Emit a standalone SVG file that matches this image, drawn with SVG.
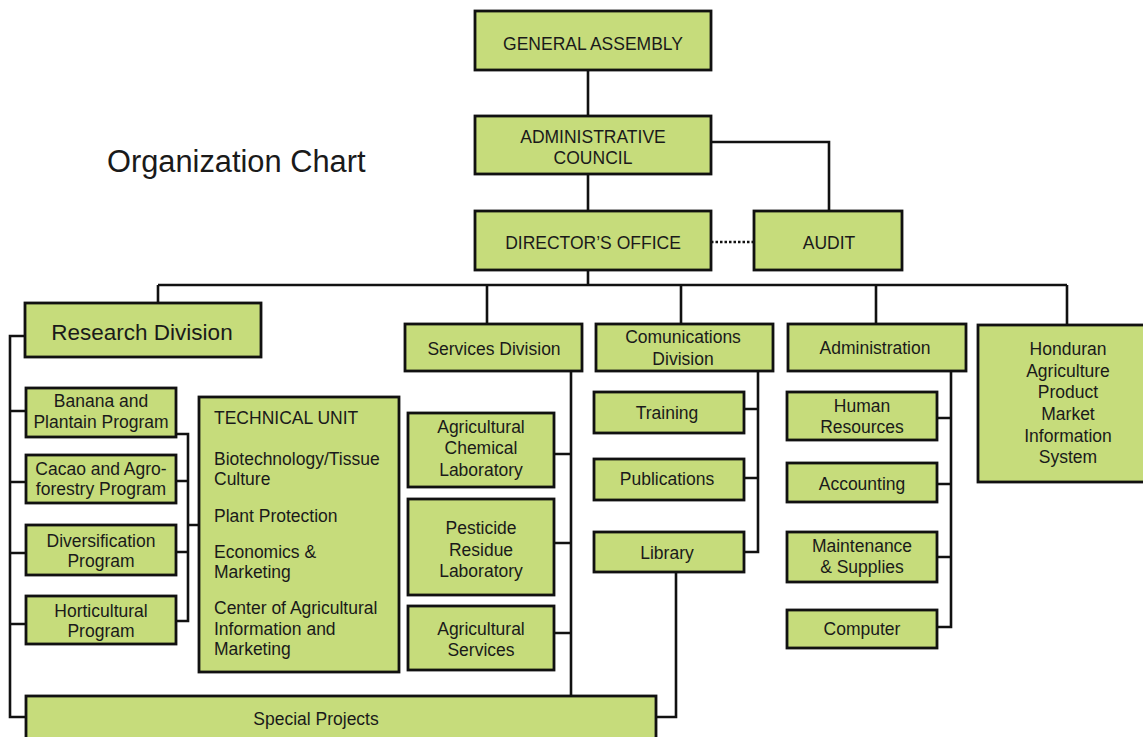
<svg xmlns="http://www.w3.org/2000/svg" width="1143" height="737" viewBox="0 0 1143 737">
<style>
.b{fill:#c6dc7b;stroke:#111;stroke-width:2.8}
.t{font-family:"Liberation Sans",Arial,sans-serif;font-size:17.5px;fill:#1a1a1a;text-anchor:middle}
.l{text-anchor:start}
.c{fill:none;stroke:#111;stroke-width:2.6}
</style>
<rect width="1143" height="737" fill="#fff"/>
<text x="107" y="172" style="font-family:'Liberation Sans',Arial,sans-serif;font-size:30.8px;fill:#1a1a1a">Organization Chart</text>
<g id="connectors">
<path class="c" d="M588,70V116M588,174V211M711,142H829V211M588,270V285M158,285H1067M158,285V303M487,285V324M681,285V324M876,285V324M1067,285V325"/>
<path class="c" d="M711,242H754" stroke-dasharray="2.5,2"/>
<path class="c" d="M25,336H10V717H26M10,411H26M10,482H26M10,553H26M10,624H26"/>
<path class="c" d="M176,434H188V621H176M176,481H188M176,552H188M188,525H199"/>
<path class="c" d="M571,371V696M554,454H571M554,543H571M554,633H571"/>
<path class="c" d="M758,371V552H744M744,409H758M744,478H758"/>
<path class="c" d="M676,572V717H656"/>
<path class="c" d="M951,371V627H937M937,418H951M937,484H951M937,557H951"/>
</g>
<g id="general-assembly"><rect class="b" x="475" y="11" width="236" height="59"/><text class="t" x="593" y="50">GENERAL ASSEMBLY</text></g>
<g id="administrative-council"><rect class="b" x="475" y="116" width="236" height="58"/><text class="t" x="593" y="143">ADMINISTRATIVE</text><text class="t" x="593" y="164">COUNCIL</text></g>
<g id="directors-office"><rect class="b" x="475" y="211" width="236" height="59"/><text class="t" x="593" y="249">DIRECTOR’S OFFICE</text></g>
<g id="audit"><rect class="b" x="754" y="211" width="148" height="59"/><text class="t" x="829" y="249">AUDIT</text></g>
<g id="research-division"><rect class="b" x="25" y="303" width="236" height="54"/><text class="t" x="142" y="340" style="font-size:22.5px">Research Division</text></g>
<g id="banana"><rect class="b" x="26" y="388" width="150" height="49"/><text class="t" x="101" y="407">Banana and</text><text class="t" x="101" y="428">Plantain Program</text></g>
<g id="cacao"><rect class="b" x="26" y="455" width="150" height="48"/><text class="t" x="101" y="475">Cacao and Agro-</text><text class="t" x="101" y="495">forestry Program</text></g>
<g id="diversification"><rect class="b" x="26" y="525" width="150" height="50"/><text class="t" x="101" y="547">Diversification</text><text class="t" x="101" y="567">Program</text></g>
<g id="horticultural"><rect class="b" x="26" y="596" width="150" height="48"/><text class="t" x="101" y="617">Horticultural</text><text class="t" x="101" y="637">Program</text></g>
<g id="technical-unit"><rect class="b" x="199" y="397" width="200" height="275"/>
<text class="t l" x="214" y="424">TECHNICAL UNIT</text>
<text class="t l" x="214" y="465">Biotechnology/Tissue</text>
<text class="t l" x="214" y="485">Culture</text>
<text class="t l" x="214" y="522">Plant Protection</text>
<text class="t l" x="214" y="558">Economics &amp;</text>
<text class="t l" x="214" y="578">Marketing</text>
<text class="t l" x="214" y="614">Center of Agricultural</text>
<text class="t l" x="214" y="635">Information and</text>
<text class="t l" x="214" y="655">Marketing</text></g>
<g id="special-projects"><rect class="b" x="26" y="696" width="630" height="60"/><text class="t" x="316" y="725">Special Projects</text></g>
<g id="services-division"><rect class="b" x="405" y="324" width="177" height="47"/><text class="t" x="494" y="355">Services Division</text></g>
<g id="agricultural-chemical-laboratory"><rect class="b" x="408" y="413" width="146" height="74"/><text class="t" x="481" y="433">Agricultural</text><text class="t" x="481" y="454">Chemical</text><text class="t" x="481" y="476">Laboratory</text></g>
<g id="pesticide-residue-laboratory"><rect class="b" x="408" y="499" width="146" height="96"/><text class="t" x="481" y="534">Pesticide</text><text class="t" x="481" y="556">Residue</text><text class="t" x="481" y="577">Laboratory</text></g>
<g id="agricultural-services"><rect class="b" x="408" y="606" width="146" height="64"/><text class="t" x="481" y="635">Agricultural</text><text class="t" x="481" y="656">Services</text></g>
<g id="comunications-division"><rect class="b" x="596" y="324" width="177" height="47"/><text class="t" x="683" y="343">Comunications</text><text class="t" x="683" y="365">Division</text></g>
<g id="training"><rect class="b" x="594" y="392" width="150" height="41"/><text class="t" x="667" y="419">Training</text></g>
<g id="publications"><rect class="b" x="594" y="459" width="150" height="41"/><text class="t" x="667" y="485">Publications</text></g>
<g id="library"><rect class="b" x="594" y="532" width="150" height="40"/><text class="t" x="667" y="559">Library</text></g>
<g id="administration"><rect class="b" x="788" y="324" width="178" height="47"/><text class="t" x="875" y="354">Administration</text></g>
<g id="human-resources"><rect class="b" x="787" y="392" width="150" height="48"/><text class="t" x="862" y="412">Human</text><text class="t" x="862" y="433">Resources</text></g>
<g id="accounting"><rect class="b" x="787" y="463" width="150" height="39"/><text class="t" x="862" y="490">Accounting</text></g>
<g id="maintenance"><rect class="b" x="787" y="532" width="150" height="50"/><text class="t" x="862" y="552">Maintenance</text><text class="t" x="862" y="573">&amp; Supplies</text></g>
<g id="computer"><rect class="b" x="787" y="610" width="150" height="38"/><text class="t" x="862" y="635">Computer</text></g>
<g id="honduran"><rect class="b" x="978" y="325" width="170" height="157"/>
<text class="t" x="1068" y="355">Honduran</text>
<text class="t" x="1068" y="377">Agriculture</text>
<text class="t" x="1068" y="398">Product</text>
<text class="t" x="1068" y="420">Market</text>
<text class="t" x="1068" y="442">Information</text>
<text class="t" x="1068" y="463">System</text></g>
</svg>
